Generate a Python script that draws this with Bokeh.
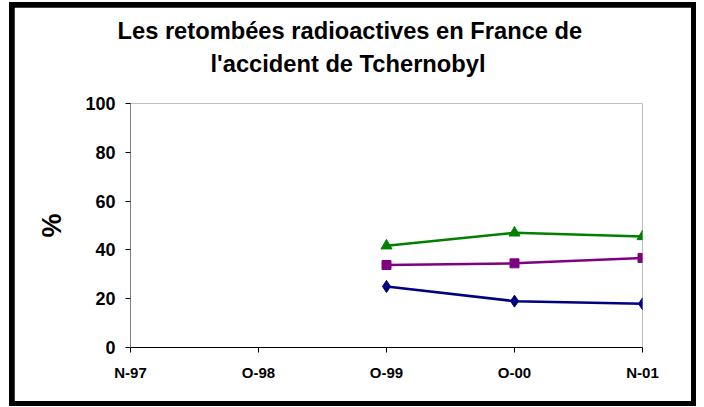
from bokeh.plotting import figure
from bokeh.models import Range1d, FixedTicker, Title
from bokeh.layouts import column
from bokeh.embed import file_html
from bokeh.resources import INLINE

nan = float("nan")

# Data
dates = ["N-97", "O-98", "O-99", "O-00", "N-01"]
series_green = [nan, nan, 41.7, 47.0, 45.5]
series_purple = [nan, nan, 33.8, 34.5, 36.7]
series_blue = [nan, nan, 25.0, 19.0, 17.9]
y_ticks = [0, 20, 40, 60, 80, 100]

title_line1 = "Les retombées radioactives en France de"
title_line2 = "l'accident de Tchernobyl"

FONT = "Liberation Sans"

x = list(range(len(dates)))

p = figure(width=677, height=394,
           x_range=Range1d(0, len(dates) - 1), y_range=Range1d(0, 100),
           output_backend="svg", toolbar_location=None,
           min_border_left=116, min_border_right=49,
           min_border_top=96, min_border_bottom=54)

p.background_fill_color = "white"
p.border_fill_color = "white"
p.outline_line_color = None
p.xgrid.grid_line_color = None
p.ygrid.grid_line_color = None

# Titles (upper line is the figure title, lower line added nearer the frame)
p.title.text = title_line1
p.title.text_font = FONT
p.title.text_font_size = "23.7px"
p.title.text_font_style = "bold"
p.title.text_color = "black"
p.title.align = "left"
p.title.offset = -13
p.title.standoff = -42
p.add_layout(Title(text=title_line2, text_font=FONT, text_font_size="23.7px",
                   text_font_style="bold", text_color="black",
                   align="left", offset=80, standoff=53), "above")

# X axis
p.xaxis.ticker = FixedTicker(ticks=x)
p.xaxis.major_label_overrides = {i: d for i, d in zip(x, dates)}
p.xaxis.minor_tick_line_color = None
p.xaxis.major_tick_in = 0
p.xaxis.major_tick_out = 5
p.xaxis.axis_line_color = "black"
p.xaxis.major_tick_line_color = "black"
p.xaxis.major_label_text_font = FONT
p.xaxis.major_label_text_font_style = "bold"
p.xaxis.major_label_text_font_size = "15px"
p.xaxis.major_label_text_color = "black"
p.xaxis.major_label_standoff = 11

# Y axis
p.yaxis.ticker = FixedTicker(ticks=y_ticks)
p.yaxis.minor_tick_line_color = None
p.yaxis.major_tick_in = 0
p.yaxis.major_tick_out = 5
p.yaxis.axis_line_color = "#808080"
p.yaxis.major_tick_line_color = "black"
p.yaxis.major_label_text_font = FONT
p.yaxis.major_label_text_font_style = "bold"
p.yaxis.major_label_text_font_size = "18px"
p.yaxis.major_label_text_color = "black"
p.yaxis.major_label_standoff = 10
p.yaxis.axis_label = "%"
p.yaxis.axis_label_text_font = FONT
p.yaxis.axis_label_text_font_style = "bold"
p.yaxis.axis_label_text_font_size = "27px"
p.yaxis.axis_label_text_color = "black"
p.yaxis.axis_label_standoff = 15

# Series
p.line(x, series_green, line_color="#008000", line_width=2.5)
p.scatter(x, series_green, marker="triangle", size=11, fill_color="#008000", line_color="#008000")
p.line(x, series_purple, line_color="#800080", line_width=2.5)
p.scatter(x, series_purple, marker="square", size=9, fill_color="#800080", line_color="#800080")
p.line(x, series_blue, line_color="#000080", line_width=2.5)
p.scatter(x, series_blue, marker="diamond", size=12, fill_color="#000080", line_color="#000080")

layout = column(p, margin=(2, 0, 0, 9),
                styles={"background-color": "black", "padding": "5px"})

open("out.html", "w").write(file_html(layout, INLINE))
